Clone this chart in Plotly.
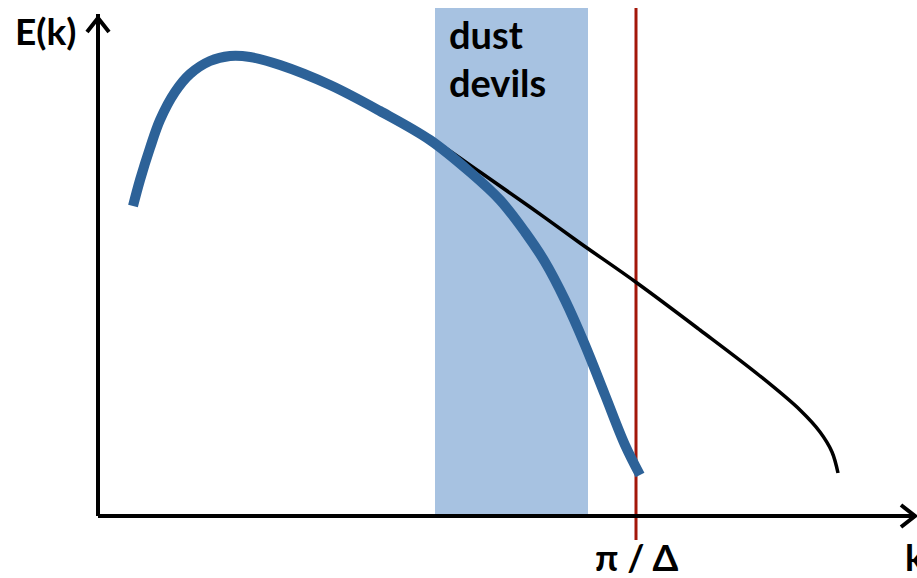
import plotly.graph_objects as go

# schematic energy spectrum E(k); coordinates in chart units (origin = axis corner)
resolved_k = [35, 42, 52, 62, 77, 92, 112, 132, 152, 182, 232, 282, 332, 372, 402, 427,
              447, 467, 487, 507, 527, 542]
resolved_E = [310, 336, 368, 396, 424, 442, 455, 460, 459, 451, 431, 405, 376, 344, 316, 284,
              254, 216, 171, 121, 71, 41]

full_k = [182, 232, 282, 332, 382, 432, 482, 539, 602, 662, 702, 722, 734, 740]
full_E = [451, 431, 405, 378, 344, 309, 273, 233, 186, 140, 106, 84, 64, 43]

band_k = [337, 490]       # "dust devils" range
cutoff_k = 538            # pi / Delta
k_max = 817
E_max = 498

FONT = "Lato, 'Open Sans', sans-serif"
BLACK = "#000000"


def main():
    fig = go.Figure()

    # shaded dust-devil band
    fig.add_trace(go.Scatter(
        x=[band_k[0], band_k[1], band_k[1], band_k[0], band_k[0]],
        y=[0, 0, 508, 508, 0], fill="toself", fillcolor="#A7C2E1",
        line=dict(width=0), mode="lines", hoverinfo="skip"))

    # cutoff line
    fig.add_trace(go.Scatter(x=[cutoff_k, cutoff_k], y=[-24, 508], mode="lines",
                             line=dict(color="#A3170A", width=3)))

    # unresolved (full) spectrum
    fig.add_trace(go.Scatter(x=full_k, y=full_E, mode="lines", line_shape="spline",
                             line=dict(color=BLACK, width=3.5)))

    # resolved spectrum
    fig.add_trace(go.Scatter(x=resolved_k, y=resolved_E, mode="lines", line_shape="spline",
                             line=dict(color="#2D6298", width=10)))

    # axes with open arrow heads
    fig.add_trace(go.Scatter(x=[0, 0, None, -11, 0, 11], y=[0, E_max + 4, None, E_max - 14, E_max, E_max - 14],
                             mode="lines", line=dict(color=BLACK, width=4)))
    fig.add_trace(go.Scatter(x=[0, k_max, None, k_max - 14, k_max, k_max - 14], y=[0, 0, None, 11, 0, -11],
                             mode="lines", line=dict(color=BLACK, width=4)))

    fig.add_annotation(x=-53, y=486, text="<b>E(k)</b>", showarrow=False,
                       font=dict(size=37, color=BLACK, family=FONT))
    fig.add_annotation(x=349, y=482, text="<b>dust</b>", showarrow=False, xanchor="left",
                       font=dict(size=38, color=BLACK, family=FONT))
    fig.add_annotation(x=349, y=434, text="<b>devils</b>", showarrow=False, xanchor="left",
                       font=dict(size=38, color=BLACK, family=FONT))
    fig.add_annotation(x=cutoff_k, y=-40, text="<b>π / Δ</b>", showarrow=False,
                       font=dict(size=37, color=BLACK, family=FONT))
    fig.add_annotation(x=805, y=-40, text="<b>k</b>", showarrow=False, xanchor="left",
                       font=dict(size=37, color=BLACK, family=FONT))

    fig.update_layout(
        width=917, height=578, margin=dict(l=0, r=0, t=0, b=0),
        paper_bgcolor="white", plot_bgcolor="white", showlegend=False,
        xaxis=dict(range=[-98, 819], visible=False, fixedrange=True),
        yaxis=dict(range=[-62, 516], visible=False, fixedrange=True),
    )

    # drop the page's default body margin so the figure sits at the window corner
    fig.write_html("out.html", config={"displayModeBar": False},
                   post_script="document.body.style.margin='0';document.body.style.overflow='hidden';")


if __name__ == "__main__":
    main()
